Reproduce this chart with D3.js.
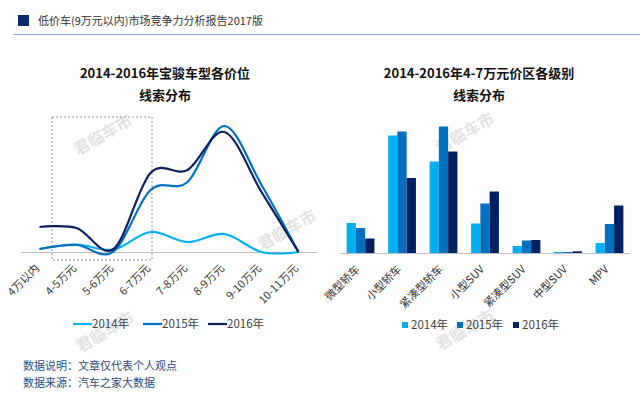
<!DOCTYPE html>
<html>
<head>
<meta charset="utf-8">
<script src="https://cdn.jsdelivr.net/npm/d3@7"></script>
<style>
  body { margin: 0; background: #fff; }
  svg { display: block; font-family: "Noto Sans CJK SC", "Noto Sans", sans-serif; }
</style>
</head>
<body>
<div class="container"></div>
<script>
const w = 640
const h = 399

const years = ["2014年", "2015年", "2016年"]
const colors = ["#00b0f0", "#0070c0", "#0d1f5c"]
const barColors = ["#00b0f0", "#0070c0", "#002060"]

// left chart: 宝骏 leads by price band
const priceBands = ["4万以内", "4-5万元", "5-6万元", "6-7万元", "7-8万元", "8-9万元", "9-10万元", "10-11万元"]
const leads2014 = [3, 7.5, 2.5, 20, 10, 18, 0, 0]
const leads2015 = [3, 7, 0.5, 62, 70, 126, 67, 0]
const leads2016 = [25, 24, 3, 79, 82, 120, 60, 0]

// right chart: 4-7万 leads by segment
const segments = ["微型轿车", "小型轿车", "紧凑型轿车", "小型SUV", "紧凑型SUV", "中型SUV", "MPV"]
const seg2014 = [30, 117.5, 91.5, 29.5, 7, 1, 10]
const seg2015 = [25, 121.5, 126.5, 49.5, 12.5, 1, 29]
const seg2016 = [14.5, 75, 101.5, 61.5, 13, 1.7, 47.5]

const watermarks = [[103, 135], [287, 230], [465, 133], [105, 332], [465, 330]]

const svg = d3.select(".container")
              .append("svg")
              .attr("width", w)
              .attr("height", h)

// header
svg.append("rect")
    .attr("x", 18).attr("y", 15)
    .attr("width", 11).attr("height", 11)
    .attr("fill", "#0d2a6b")
svg.append("text")
    .attr("x", 38).attr("y", 21)
    .attr("dy", "0.35em")
    .attr("font-size", 11)
    .attr("fill", "#333")
    .text("低价车(9万元以内)市场竞争力分析报告2017版")
svg.append("line")
    .attr("x1", 13).attr("x2", w)
    .attr("y1", 34.5).attr("y2", 34.5)
    .attr("stroke", "#8eaadb")

// watermarks
svg.selectAll(".wm")
    .data(watermarks)
    .enter()
    .append("text")
      .attr("class", "wm")
      .attr("transform", d => `translate(${d[0]}, ${d[1]}) rotate(-30)`)
      .attr("text-anchor", "middle")
      .attr("dy", "0.35em")
      .attr("font-size", 16)
      .attr("font-weight", "bold")
      .attr("fill", "#e3e3e3")
      .text("君临车市")

// titles
function title(cx, lines) {
  svg.append("text")
      .attr("text-anchor", "middle")
      .attr("font-size", 13)
      .attr("font-weight", "bold")
      .attr("fill", "#111")
      .selectAll("tspan")
      .data(lines)
      .enter()
      .append("tspan")
        .attr("x", cx)
        .attr("y", (d, i) => 73 + i * 22)
        .attr("dy", "0.35em")
        .text(d => d)
}
title(165, ["2014-2016年宝骏车型各价位", "线索分布"])
title(479, ["2014-2016年4-7万元价区各级别", "线索分布"])

function styleAxis(g) {
  g.select(".domain").attr("stroke", "#bfbfbf")
  g.selectAll("text")
      .attr("x", 0).attr("y", 0).attr("dy", 0)
      .attr("transform", "translate(0, 17) rotate(-45)")
      .attr("text-anchor", "end")
      .attr("font-size", 11)
      .attr("font-family", "\"Noto Sans CJK SC\", sans-serif")
      .attr("fill", "#333")
}

// ---- left line chart
const xLine = d3.scalePoint()
                .domain(priceBands)
                .range([21, 317])
                .padding(0.5)
const yLine = d3.scaleLinear()
                .domain([0, 130])
                .range([252, 122])

// dashed highlight box (4-5万 to 6-7万)
svg.append("rect")
    .attr("x", xLine("4-5万元") - 24.5)
    .attr("y", yLine(135))
    .attr("width", xLine("6-7万元") - xLine("4-5万元") + 26)
    .attr("height", yLine(-8) - yLine(135))
    .attr("fill", "none")
    .attr("stroke", "#8497b0")
    .attr("stroke-dasharray", "2,2")

const leftAxis = svg.append("g")
    .attr("transform", `translate(0, ${yLine(0)})`)
    .call(d3.axisBottom(xLine).tickSize(0).tickSizeOuter(0))
styleAxis(leftAxis)

const line = d3.line()
               .x((d, i) => xLine(priceBands[i]))
               .y(d => yLine(d))
               .curve(d3.curveCardinal.tension(0))

svg.selectAll(".series")
    .data([leads2014, leads2015, leads2016])
    .enter()
    .append("path")
      .attr("class", "series")
      .attr("d", line)
      .attr("fill", "none")
      .attr("stroke", (d, i) => colors[i])
      .attr("stroke-width", 2.2)

// left legend
const legL = svg.append("g")
    .selectAll("g")
    .data(years)
    .enter()
    .append("g")
      .attr("transform", (d, i) => `translate(${[73, 143, 208][i]}, 324)`)
legL.append("line")
    .attr("x1", 0).attr("x2", 19)
    .attr("stroke", (d, i) => colors[i])
    .attr("stroke-width", 2.2)
legL.append("text")
    .attr("x", 19)
    .attr("dy", "0.35em")
    .attr("font-size", 11.5)
    .attr("fill", "#404040")
    .text(d => d)

// ---- right bar chart
const xBar = d3.scaleBand()
               .domain(segments)
               .range([340, 630])
               .paddingInner(0.33)
               .paddingOuter(0.16)
const xYear = d3.scaleBand()
                .domain(years)
                .range([0, xBar.bandwidth()])
const yBar = d3.scaleLinear()
               .domain([0, 130])
               .range([253, 123])

const barData = segments.map((s, i) => ({
  segment: s,
  values: [seg2014[i], seg2015[i], seg2016[i]]
}))

svg.selectAll(".group")
    .data(barData)
    .enter()
    .append("g")
      .attr("class", "group")
      .attr("transform", d => `translate(${xBar(d.segment)}, 0)`)
      .selectAll("rect")
      .data(d => d.values)
      .enter()
      .append("rect")
        .attr("x", (d, i) => xYear(years[i]))
        .attr("y", d => yBar(d))
        .attr("width", xYear.bandwidth())
        .attr("height", d => yBar(0) - yBar(d))
        .attr("fill", (d, i) => barColors[i])

const rightAxis = svg.append("g")
    .attr("transform", `translate(0, ${yBar(0)})`)
    .call(d3.axisBottom(xBar).tickSize(0).tickSizeOuter(0))
styleAxis(rightAxis)

// right legend
const legR = svg.append("g")
    .selectAll("g")
    .data(years)
    .enter()
    .append("g")
      .attr("transform", (d, i) => `translate(${[402, 457, 513][i]}, 325)`)
legR.append("rect")
    .attr("y", -3)
    .attr("width", 6).attr("height", 6)
    .attr("fill", (d, i) => barColors[i])
legR.append("text")
    .attr("x", 9)
    .attr("dy", "0.35em")
    .attr("font-size", 11.5)
    .attr("fill", "#404040")
    .text(d => d)

// footer notes
svg.append("g")
    .selectAll("text")
    .data(["数据说明：文章仅代表个人观点", "数据来源：汽车之家大数据"])
    .enter()
    .append("text")
      .attr("x", 23)
      .attr("y", (d, i) => 366 + i * 17)
      .attr("dy", "0.35em")
      .attr("font-size", 11)
      .attr("fill", "#2e4a7a")
      .text(d => d)
</script>
</body>
</html>
